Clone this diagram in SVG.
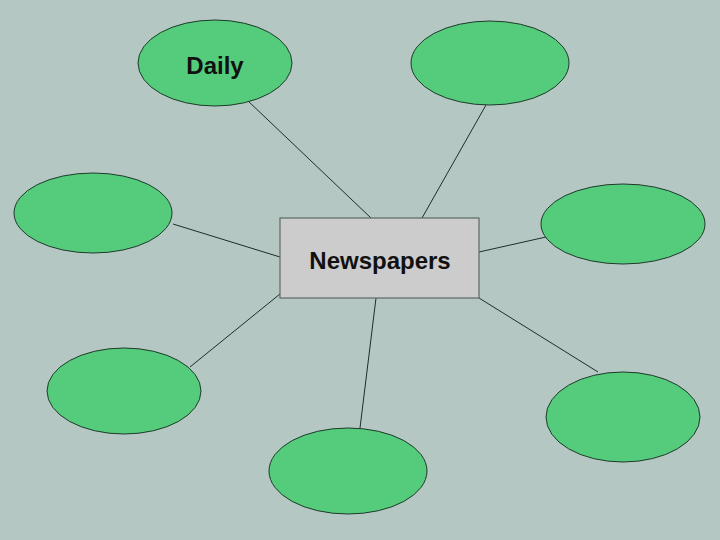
<svg xmlns="http://www.w3.org/2000/svg" width="720" height="540" viewBox="0 0 720 540">
<style>
.bg{fill:#b4c7c2}
.n{fill:#55cc7c;stroke:#1e3a2a;stroke-width:1}
.c{fill:#cccccc;stroke:#5a6a64;stroke-width:1.2}
.e line{stroke:#1e2e28;stroke-width:1}
text{font-family:"Liberation Sans",Arial,sans-serif;font-weight:bold;font-size:24px;fill:#111;text-anchor:middle;dominant-baseline:central}
</style>
<rect class="bg" x="0" y="0" width="720" height="540"/>
<g id="connectors" class="e">
<line x1="247" y1="100" x2="371" y2="218"/>
<line x1="486" y1="105" x2="422" y2="218"/>
<line x1="173" y1="224" x2="280" y2="257"/>
<line x1="479" y1="252" x2="546" y2="237"/>
<line x1="190" y1="367" x2="280" y2="294"/>
<line x1="376" y1="298" x2="360" y2="428"/>
<line x1="479" y1="298" x2="598" y2="372"/>
</g>
<g id="daily"><ellipse class="n" cx="215" cy="63" rx="77" ry="43"/><text x="215" y="65">Daily</text></g>
<g id="n-topright"><ellipse class="n" cx="490" cy="63" rx="79" ry="42"/></g>
<g id="n-left"><ellipse class="n" cx="93" cy="213" rx="79" ry="40"/></g>
<g id="n-right"><ellipse class="n" cx="623" cy="224" rx="82" ry="40"/></g>
<g id="n-bottomleft"><ellipse class="n" cx="124" cy="391" rx="77" ry="43"/></g>
<g id="n-bottom"><ellipse class="n" cx="348" cy="471" rx="79" ry="43"/></g>
<g id="n-bottomright"><ellipse class="n" cx="623" cy="417" rx="77" ry="45"/></g>
<g id="newspapers"><rect class="c" x="280" y="218" width="199" height="80"/><text x="380" y="260">Newspapers</text></g>
</svg>
